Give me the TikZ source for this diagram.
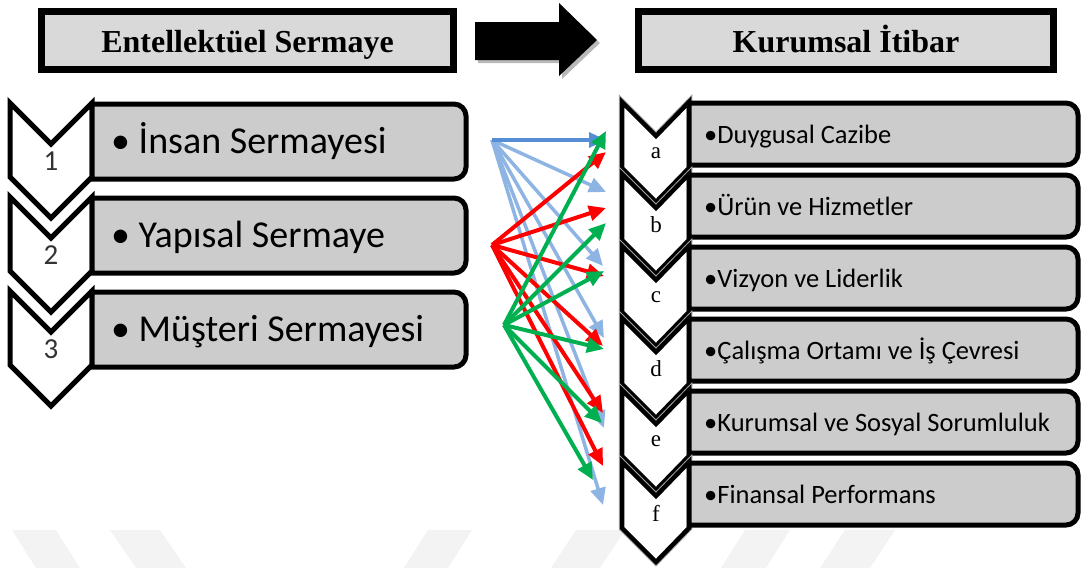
\documentclass[tikz,border=0pt]{standalone}
\usepackage{fontspec}
\setmainfont{Liberation Serif}
\newfontfamily\calibri{Carlito}
\usetikzlibrary{arrows.meta}
\definecolor{boxgray}{HTML}{CCCCCC}
\definecolor{headgray}{HTML}{D9D9D9}
\definecolor{lblue}{HTML}{8EB4E3}
\definecolor{dblue}{HTML}{558ED5}
\definecolor{linkred}{HTML}{FF0000}
\definecolor{linkgreen}{HTML}{00B050}
\definecolor{wmgray}{HTML}{F3F3F3}
\begin{document}
\begin{tikzpicture}[x=1pt,y=-1pt,
  headbox/.style={draw=black, line width=7pt, fill=headgray},
  headtext/.style={font=\bfseries\fontsize{32}{34}\selectfont, anchor=base, inner sep=0pt},
  itembox/.style={draw=black, line width=5pt, fill=boxgray},
  chevL/.style={draw=black, line width=5pt, fill=white, line join=miter},
  chevR/.style={draw=black, line width=4.5pt, fill=white, line join=miter},
  chevRshade/.style={draw=gray!70, line width=6.5pt, line join=miter},
  numtext/.style={font=\calibri\fontsize{29}{29}\selectfont, text=black!80, inner sep=0pt},
  lettext/.style={font=\fontsize{23}{23}\selectfont, inner sep=0pt},
  bigtext/.style={font=\calibri\fontsize{38}{40}\selectfont, anchor=base west, inner sep=0pt},
  smalltext/.style={font=\calibri\fontsize{26.5}{28}\selectfont, anchor=base west, inner sep=0pt},
  link/.style={line width=4pt, -{Triangle[length=17pt,width=15pt]}},
]
\useasboundingbox (0,0) rectangle (1084,568);

% faint background stripes along the bottom edge
\fill[wmgray] (12,530) -- (56,530) -- (80,568) -- (36,568) -- cycle;
\fill[wmgray] (110,530) -- (160,530) -- (186,568) -- (136,568) -- cycle;
\fill[wmgray] (428,530) -- (472,530) -- (448,568) -- (404,568) -- cycle;
\fill[wmgray] (576,530) -- (625,530) -- (600,568) -- (551,568) -- cycle;
\fill[wmgray] (745,530) -- (790,530) -- (766,568) -- (721,568) -- cycle;
\fill[wmgray] (845,530) -- (895,530) -- (870,568) -- (820,568) -- cycle;

% headings
\draw[headbox] (41.5,11.5) rectangle (453.5,69.5);
\node[headtext] (hL) at (247.5,52) {Entellektüel Sermaye};
\draw[headbox] (638.5,11.5) rectangle (1053.5,69.5);
\node[headtext] (hR) at (846,52) {Kurumsal İtibar};

% block arrow between the headings
\fill[gray!55] (478,25) -- (562,25) -- (562,6) -- (600,43) -- (562,79) -- (562,63) -- (478,63) -- cycle;
\fill[black] (475,22) -- (559,22) -- (559,3) -- (597,40) -- (559,76) -- (559,60) -- (475,60) -- cycle;

% left chevron list
\foreach \n/\t/\lab in {1/103/{İnsan Sermayesi}, 2/197/{Yapısal Sermaye}, 3/291/{Müşteri Sermayesi}} {
  \draw[chevL] (10,\t) -- (51,\t+41) -- (92,\t) -- (92,\t+74) -- (51,\t+115) -- (10,\t+74) -- cycle;
  \draw[itembox] (92,\t+1) [rounded corners=12pt] -- (466,\t+1) -- (466,\t+76) [sharp corners] -- (92,\t+76) -- cycle;
  \node[numtext] (num\n) at (51,\t+58) {\n};
  \node[bigtext] (item\n) at (111,\t+50) {• \lab};
}

% right chevron list
\foreach \n/\t/\lab in {a/102/{Duygusal Cazibe}, b/174/{Ürün ve Hizmetler}, c/246/{Vizyon ve Liderlik}, d/318/{Çalışma Ortamı ve İş Çevresi}, e/390/{Kurumsal ve Sosyal Sorumluluk}, f/462/{Finansal Performans}} {
  \draw[chevRshade] (622,\t) -- (656,\t+34) -- (689,\t) -- (689,\t+66) -- (656,\t+100) -- (622,\t+66) -- cycle;
  \draw[chevR] (622,\t) -- (656,\t+34) -- (689,\t) -- (689,\t+66) -- (656,\t+100) -- (622,\t+66) -- cycle;
  \draw[itembox] (689,\t+1) [rounded corners=12pt] -- (1078,\t+1) -- (1078,\t+63) [sharp corners] -- (689,\t+63) -- cycle;
  \node[lettext] (let\n) at (656,\t+51) {\n};
  \node[smalltext] (crit\n) at (704,\t+41) {•\lab};
}

% link end points
\coordinate (srcB) at (492,140);
\coordinate (srcR) at (492,245);
\coordinate (srcG) at (504,325);
\coordinate (bt1) at (606,140);
\coordinate (bt2) at (606,192);
\coordinate (bt3) at (603,266);
\coordinate (bt4) at (604,338);
\coordinate (bt5) at (604,428);
\coordinate (bt6) at (603,505);
\coordinate (rt1) at (606,152);
\coordinate (rt2) at (606,208);
\coordinate (rt3) at (604,276);
\coordinate (rt4) at (603,346);
\coordinate (rt5) at (603,413);
\coordinate (rt6) at (603,466);
\coordinate (gt1) at (606,131);
\coordinate (gt2) at (606,223);
\coordinate (gt3) at (604,271);
\coordinate (gt4) at (604,349);
\coordinate (gt5) at (602,423);
\coordinate (gt6) at (593,480);

% links
\foreach \k in {2,...,6} \draw[link, lblue, line width=3.5pt] (srcB) -- (bt\k);
\draw[link, dblue, line width=3.5pt] (srcB) -- (bt1);
\foreach \k in {1,...,6} \draw[link, linkred] (srcR) -- (rt\k);
\foreach \k in {1,...,6} \draw[link, linkgreen] (srcG) -- (gt\k);
\end{tikzpicture}
\end{document}
